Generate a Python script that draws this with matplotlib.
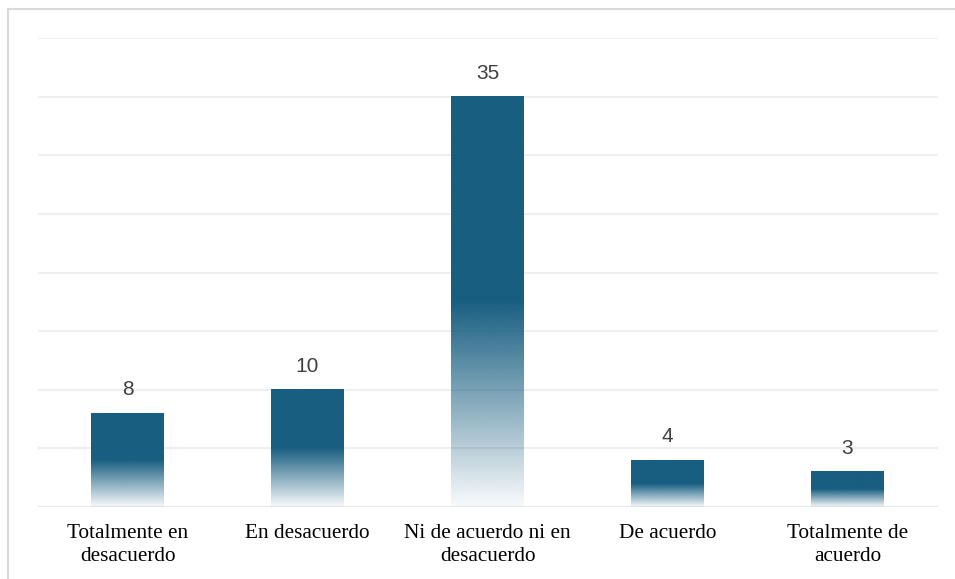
import numpy as np
import matplotlib
matplotlib.use("Agg")
import matplotlib.pyplot as plt
from matplotlib.lines import Line2D
from matplotlib.colors import to_rgb

categories = ["Totalmente en\ndesacuerdo", "En desacuerdo", "Ni de acuerdo ni en\ndesacuerdo",
              "De acuerdo", "Totalmente de\nacuerdo"]
values = [8, 10, 35, 4, 3]

bar_color = "#185e81"
bar_width = 0.405

fig = plt.figure(figsize=(9.55, 5.79), dpi=100)
ax = fig.add_axes([37.5 / 955, 1 - 507 / 579, 900 / 955, (507 - 38) / 579])

# light frame along the top and left edges of the figure
frame_x = 7.5 / 955
frame_y = 1 - 8.5 / 579
fig.lines.append(Line2D([frame_x, 1.02], [frame_y, frame_y], transform=fig.transFigure,
                        color="#d9d9d9", linewidth=1.5))
fig.lines.append(Line2D([frame_x, frame_x], [-0.02, frame_y], transform=fig.transFigure,
                        color="#d9d9d9", linewidth=1.5))

ax.set_yticks(np.arange(0, 41, 5))
ax.yaxis.grid(True, color="#efefef", linewidth=1.5)
ax.set_axisbelow(True)
for s in ax.spines.values():
    s.set_visible(False)
ax.tick_params(axis="y", left=False, labelleft=False)
ax.tick_params(axis="x", bottom=False, pad=9)

# vertical gradient: solid in the upper half, fading towards white at the base
n = 256
frac = np.linspace(0, 1, n)  # 0 = bottom, 1 = top
alpha = np.clip(np.clip(frac / 0.5, 0, 1) * 0.97 + 0.03, 0, 1)
rgb = to_rgb(bar_color)
grad = np.zeros((n, 1, 4))
grad[:, 0, 0], grad[:, 0, 1], grad[:, 0, 2] = rgb
grad[:, 0, 3] = alpha

for i, v in enumerate(values):
    x0, x1 = i - bar_width / 2, i + bar_width / 2
    ax.imshow(grad, extent=(x0, x1, 0, v), origin="lower", aspect="auto",
              interpolation="bilinear", zorder=2)
    ax.annotate(str(v), (i, v), xytext=(0, 10), textcoords="offset points",
                ha="center", va="bottom", fontsize=15, color="#404040",
                family="Liberation Sans")

ax.set_xlim(-0.5, len(values) - 0.5)
ax.set_ylim(0, 40)
ax.set_xticks(range(len(values)))
ax.set_xticklabels(categories, family="Liberation Serif", fontsize=15.3,
                   color="#000000", linespacing=1.25)
ax.axhline(0, color="#e8e8e8", linewidth=1.5, zorder=1)

fig.savefig("out.png", dpi=100)
